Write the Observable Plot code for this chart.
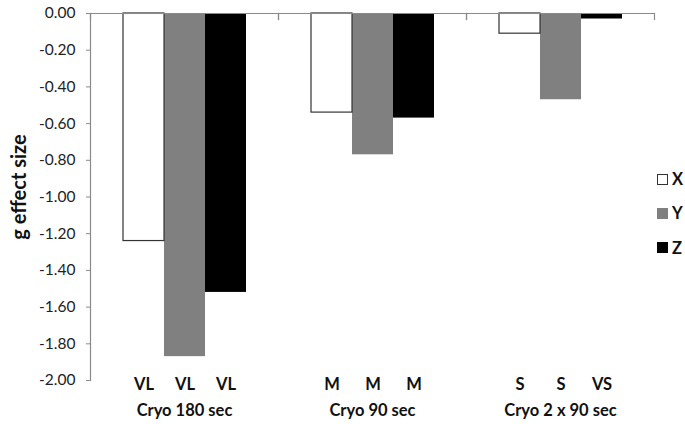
<!DOCTYPE html>
<html>
<head>
<meta charset="utf-8">
<script src="https://cdn.jsdelivr.net/npm/d3@7"></script>
<script src="https://cdn.jsdelivr.net/npm/@observablehq/plot@0.6"></script>
<style>
  html, body { margin: 0; padding: 0; background: #fff; }
  #wrap { position: relative; width: 685px; height: 424px; font-family: Lato, "Open Sans", sans-serif; }
  #legend { position: absolute; left: 657px; top: 162px; font-weight: bold; font-size: 16.5px; color: #111; }
  #legend .row { display: flex; align-items: center; height: 34.3px; }
  #legend .sw { width: 11px; height: 11px; margin-right: 4px; box-sizing: border-box; }
</style>
</head>
<body>
<div id="wrap"><div id="legend"></div></div>
<script>
const groups = ["Cryo 180 sec", "Cryo 90 sec", "Cryo 2 x 90 sec"];
const series = ["X", "Y", "Z"];
const xValues = [-1.24, -0.54, -0.11];
const yValues = [-1.87, -0.77, -0.47];
const zValues = [-1.52, -0.57, -0.03];
const xSizes = ["VL", "M", "S"];
const ySizes = ["VL", "M", "S"];
const zSizes = ["VL", "M", "VS"];
const yTicks = [0, -0.2, -0.4, -0.6, -0.8, -1.0, -1.2, -1.4, -1.6, -1.8, -2.0];

const seriesValues = [xValues, yValues, zValues];
const seriesSizes = [xSizes, ySizes, zSizes];
const rows = [];
groups.forEach((g, gi) => series.forEach((s, si) => {
  rows.push({group: g, series: s, value: seriesValues[si][gi], size: seriesSizes[si][gi]});
}));

const colors = ["#ffffff", "#808080", "#000000"];
const font = "Lato, 'Open Sans', sans-serif";

const chart = Plot.plot({
  width: 685,
  height: 424,
  marginLeft: 89,
  marginRight: 31,
  marginTop: 13,
  marginBottom: 44,
  style: {fontFamily: font, background: "white", overflow: "visible"},
  fx: {domain: groups, padding: 0, axis: null},
  x: {domain: series, paddingInner: 0, paddingOuter: 0.76, axis: null},
  y: {domain: [-2, 0], axis: null},
  color: {domain: series, range: colors},
  marks: [
    Plot.barY(rows, {fx: "group", x: "series", y: "value", fill: "series"}),
    Plot.barY(rows.filter(d => d.series === "X"), {fx: "group", x: "series", y: "value", fill: "white", stroke: "#333", strokeWidth: 1.2}),
    Plot.ruleY([0], {stroke: "#8a8a8a", strokeWidth: 1.2}),
    Plot.frame({anchor: "left", insetBottom: 361, stroke: "#8a8a8a", strokeWidth: 1.2}),
    Plot.frame({anchor: "right", insetBottom: 361, stroke: "#8a8a8a", strokeWidth: 1.2}),
    Plot.frame({anchor: "left", fx: () => groups[0], stroke: "#8a8a8a", strokeWidth: 1.2}),
    Plot.axisY({ticks: yTicks, tickSize: 4, tickPadding: 11, stroke: "#8a8a8a", tickFormat: d => d.toFixed(2), fontSize: 15.5, fill: "#222", label: null, textStroke: "none"}),
    Plot.text(rows, {fx: "group", x: "series", text: "size", frameAnchor: "bottom", dy: 9, fontWeight: "bold", fontSize: 16.5, fill: "#111"}),
    Plot.text(groups, {fx: d => d, text: d => d, frameAnchor: "bottom", dy: 35, fontWeight: "bold", fontSize: 16.5, fill: "#111"}),
    Plot.text(["g effect size"], {fx: () => groups[0], text: d => d, frameAnchor: "left", textAnchor: "middle", rotate: -90, dx: -71, dy: -10, fontWeight: "bold", fontSize: 20, fill: "#111"})
  ]
});
document.getElementById("wrap").prepend(chart);

const legend = document.getElementById("legend");
series.forEach((s, i) => {
  const row = document.createElement("div");
  row.className = "row";
  const sw = document.createElement("div");
  sw.className = "sw";
  sw.style.background = colors[i];
  if (i === 0) sw.style.border = "1.5px solid #333";
  const t = document.createElement("span");
  t.textContent = s;
  row.appendChild(sw); row.appendChild(t);
  legend.appendChild(row);
});
</script>
</body>
</html>
